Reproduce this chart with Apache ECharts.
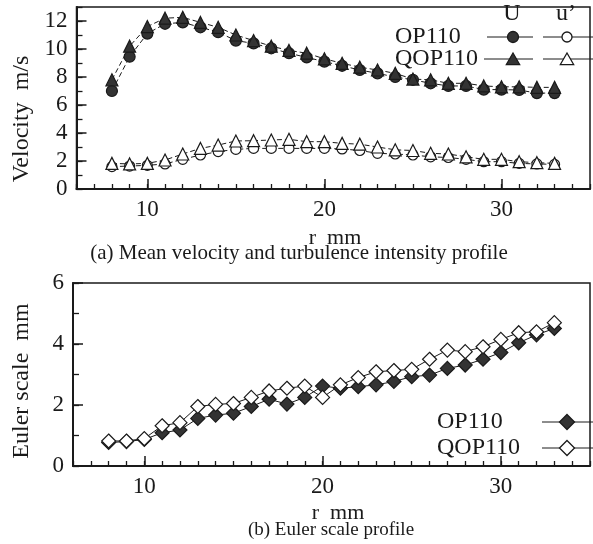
<!DOCTYPE html>
<html>
<head>
<meta charset="utf-8">
<script src="https://cdn.jsdelivr.net/npm/echarts@6/dist/echarts.min.js"></script>
<style>
html,body{margin:0;padding:0;background:#fff;}
#chart{width:593px;height:544px;}
</style>
</head>
<body>
<div id="chart"></div>
<script>
// ---- data ----
const r = [8,9,10,11,12,13,14,15,16,17,18,19,20,21,22,23,24,25,26,27,28,29,30,31,32,33];
// mean velocity U (m/s)
const U_OP110  = [7.0,9.45,11.1,11.8,11.9,11.55,11.2,10.6,10.4,10.05,9.7,9.4,9.1,8.8,8.5,8.26,8.0,7.8,7.55,7.36,7.36,7.1,7.1,7.07,6.85,6.85];
const U_QOP110 = [7.8,10.2,11.6,12.2,12.26,11.9,11.55,11.0,10.6,10.2,9.9,9.7,9.3,8.98,8.7,8.5,8.26,7.85,7.8,7.55,7.55,7.36,7.3,7.3,7.26,7.26];
// turbulence intensity u' (m/s)
const up_OP110  = [1.6,1.64,1.69,1.79,2.12,2.43,2.67,2.83,2.9,2.9,2.9,2.9,2.9,2.86,2.75,2.55,2.5,2.43,2.3,2.25,2.12,1.95,1.95,1.83,1.79,1.76];
const up_QOP110 = [1.83,1.79,1.83,2.07,2.5,2.9,3.14,3.43,3.45,3.5,3.55,3.38,3.38,3.26,3.2,3.0,2.8,2.75,2.55,2.5,2.3,2.12,2.12,1.95,1.88,1.83];
// Euler scale (mm)
const E_OP110  = [0.77,0.8,0.87,1.09,1.18,1.56,1.67,1.73,1.95,2.19,2.03,2.25,2.62,2.55,2.6,2.66,2.77,2.93,2.98,3.2,3.31,3.5,3.72,4.04,4.3,4.51];
const E_QOP110 = [0.82,0.82,0.9,1.32,1.42,1.95,2.02,2.05,2.25,2.46,2.55,2.62,2.25,2.66,2.9,3.09,3.13,3.17,3.5,3.8,3.75,3.91,4.15,4.37,4.4,4.7];
// tick labels
const xTickLabels = [10,20,30];
const yTopLabels = [0,2,4,6,8,10,12];
const yBotLabels = [0,2,4,6];

const pair = (xs, ys) => xs.map((x,i)=>[x, ys[i]]);

const FONT = 'Liberation Serif';
const INK = '#1a1a1a';
const DARK = '#333';

function xAxes(grid){
  return [
    {
      gridIndex: grid, type:'value', min:6, max:35, interval:1,
      axisLine:{show:true, onZero:false, lineStyle:{color:INK, width:2}},
      axisTick:{show:true, inside:true, length:5, lineStyle:{color:INK, width:1.3}},
      axisLabel:{fontFamily:FONT, fontSize:23, color:INK, margin:9,
        formatter: v => xTickLabels.indexOf(v) >= 0 ? String(v) : ''},
      splitLine:{show:false}
    },
    {
      gridIndex: grid, type:'value', min:6, max:35, position:'bottom',
      axisLine:{show:false},
      axisTick:{show:true, inside:true, length:10, customValues: xTickLabels, lineStyle:{color:INK, width:1.5}},
      axisLabel:{show:false},
      splitLine:{show:false}
    }
  ];
}
function yAxes(grid, max, labels){
  return [
    {
      gridIndex: grid, type:'value', min:0, max:max, interval:1,
      axisLine:{show:true, onZero:false, lineStyle:{color:INK, width:2}},
      axisTick:{show:true, inside:true, length:6, lineStyle:{color:INK, width:1.3}},
      axisLabel:{fontFamily:FONT, fontSize:23, color:INK, margin:9,
        formatter: v => labels.indexOf(v) >= 0 ? String(v) : ''},
      splitLine:{show:false}
    },
    {
      gridIndex: grid, type:'value', min:0, max:max, position:'left',
      axisLine:{show:false},
      axisTick:{show:true, inside:true, length:10, customValues: labels, lineStyle:{color:INK, width:1.5}},
      axisLabel:{show:false},
      splitLine:{show:false}
    }
  ];
}

function lineSeries(name, data, xi, yi, symbol, size, fill, dashed){
  return {
    name, type:'line', xAxisIndex:xi, yAxisIndex:yi, data,
    symbol, symbolSize:size, showSymbol:true,
    lineStyle:{color:INK, width:1, type: dashed ? [5,3] : 'solid'},
    itemStyle:{color:fill, borderColor:INK, borderWidth:1.2},
    emphasis:{disabled:true}, animation:false
  };
}

const tri = 'path://M0,-10L8.66,5L-8.66,5Z';
const dia = 'diamond';

const g = [];
function txt(s, x, y, size, align, rot){
  g.push({type:'text', x, y, rotation: rot||0,
    style:{text:s, font: size+'px "'+FONT+'"', fill:INK, align: align||'center', verticalAlign:'middle'}});
}
function seg(x1,x2,y){
  g.push({type:'line', shape:{x1,y1:y,x2,y2:y}, style:{stroke:INK, lineWidth:1}});
}
function circ(cx,cy,rr,fill){
  g.push({type:'circle', shape:{cx,cy,r:rr}, style:{fill, stroke:INK, lineWidth:1.3}});
}
function poly(points, fill){
  g.push({type:'polygon', shape:{points}, style:{fill, stroke:INK, lineWidth:1.3}});
}
function triangle(cx,cy,s,fill){ poly([[cx,cy-s],[cx+s*0.95,cy+s*0.65],[cx-s*0.95,cy+s*0.65]], fill); }
function diamond(cx,cy,s,fill){ poly([[cx,cy-s],[cx+s,cy],[cx,cy+s],[cx-s,cy]], fill); }

// axis names & captions
txt('Velocity  m/s', 22, 119, 24, 'center', Math.PI/2);
txt('Euler scale  mm', 22, 381, 24, 'center', Math.PI/2);
txt('r  mm', 335, 238, 22);
txt('(a) Mean velocity and turbulence intensity profile', 299, 253, 21);
txt('r  mm', 338, 513, 22);
txt('(b) Euler scale profile', 331, 530, 19);

// top legend
txt('U', 512, 14, 24);
txt('u\u2019', 566, 14, 24);
txt('OP110', 395, 37, 24, 'left');
txt('QOP110', 395, 59, 24, 'left');
seg(487,533,37); circ(513,37,5.5,DARK);
seg(543,593,37); circ(567,37,5,'#fff');
seg(484,533,59); triangle(513,60,7,DARK);
seg(543,593,59); triangle(567,60,7,'#fff');
// bottom legend
txt('OP110', 437, 422, 24, 'left');
txt('QOP110', 437, 448, 24, 'left');
seg(542,593,422); diamond(567,422,7.5,DARK);
seg(542,593,448); diamond(567,448,7.5,'#fff');

const option = {
  backgroundColor:'#fff',
  animation:false,
  grid:[
    {left:76.5, top:7, width:518, height:182, show:true, borderColor:INK, borderWidth:1.5, backgroundColor:'transparent'},
    {left:73, top:283, width:518, height:183, show:true, borderColor:INK, borderWidth:1.5, backgroundColor:'transparent'}
  ],
  xAxis:[...xAxes(0), ...xAxes(1)],
  yAxis:[...yAxes(0, 13, yTopLabels), ...yAxes(1, 6, yBotLabels)],
  series:[
    lineSeries('OP110 U', pair(r, U_OP110), 0, 0, 'circle', 11, DARK, true),
    lineSeries('QOP110 U', pair(r, U_QOP110), 0, 0, tri, 12, DARK, true),
    lineSeries('OP110 u\u2019', pair(r, up_OP110), 0, 0, 'circle', 10, '#fff', true),
    lineSeries('QOP110 u\u2019', pair(r, up_QOP110), 0, 0, tri, 12, '#fff', true),
    lineSeries('OP110 Euler', pair(r, E_OP110), 2, 2, dia, 14, DARK, false),
    lineSeries('QOP110 Euler', pair(r, E_QOP110), 2, 2, dia, 14, '#fff', false)
  ],
  graphic: g
};

const chart = echarts.init(document.getElementById('chart'), null, {renderer:'canvas'});
chart.setOption(option);
</script>
</body>
</html>
